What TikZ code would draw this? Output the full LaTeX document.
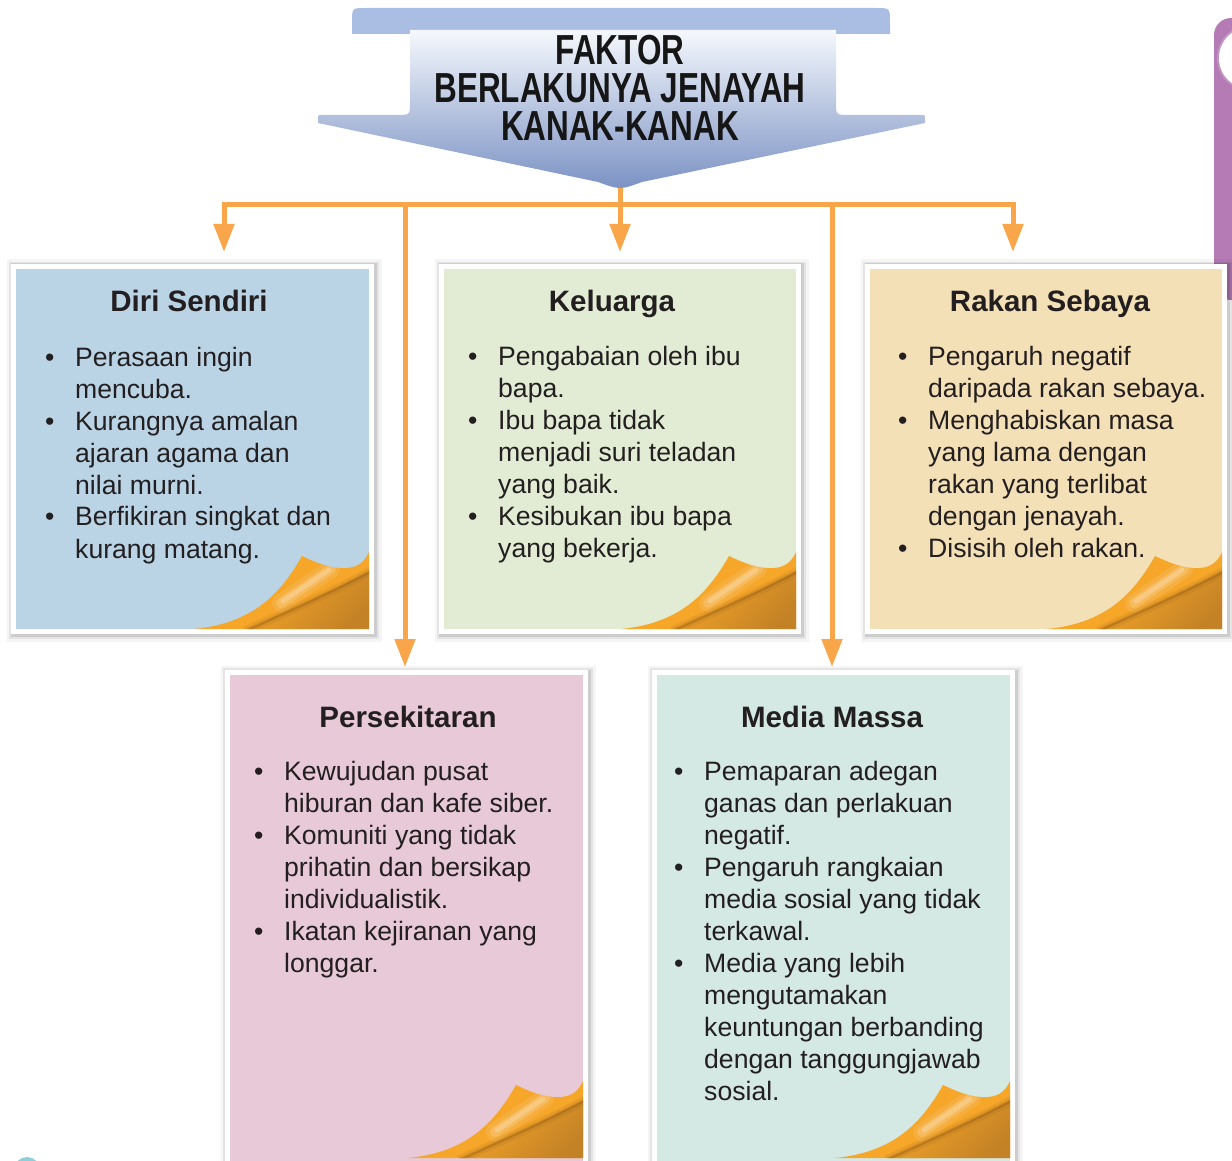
\documentclass[tikz,border=0pt]{standalone}
\usepackage{fontspec}
\setmainfont{Liberation Sans}
\usetikzlibrary{arrows.meta,calc}
\definecolor{conn}{HTML}{F9A54A}
\definecolor{txt}{HTML}{231F20}
\definecolor{titlecol}{HTML}{161616}
\definecolor{cA}{HTML}{BAD4E6}
\definecolor{cB}{HTML}{E2ECD4}
\definecolor{cC}{HTML}{F4E0B7}
\definecolor{cD}{HTML}{E8C9D7}
\definecolor{cE}{HTML}{D4E8E4}
\definecolor{barcol}{HTML}{A9BEE2}
\definecolor{bantop}{HTML}{F5F8FD}
\definecolor{banmid}{HTML}{B4C6E6}
\definecolor{banbot}{HTML}{7A91C3}
\definecolor{purp}{HTML}{B57BB5}
\definecolor{tealb}{HTML}{8FD0D8}
\definecolor{curlA}{HTML}{F6A629}
\definecolor{curlC}{HTML}{C48226}
\definecolor{curlD}{HTML}{7A4A12}
\newcommand\flappath{(-175,0) .. controls (-112,-6) and (-86,-40) .. (-67,-73) .. controls (-52,-66) and (-38,-60) .. (-22,-61) .. controls (-10,-62) and (-4,-68) .. (0,-77) -- (0,0) -- cycle}
\newcommand\foldpath{(-124,2) .. controls (-80,-18) and (-35,-38) .. (2,-58)}
\newcommand\pagecurl[1]{%
  \begin{scope}[shift={(#1)}]
    \fill[curlA] \flappath;
    \begin{scope}
      \clip \flappath;
      \draw[white, line width=18pt, opacity=0.10, line cap=round] (-38,-60) -- (-88,-26);
      \draw[white, line width=10pt, opacity=0.16, line cap=round] (-38,-60) -- (-88,-26);
      \draw[white, line width=5pt, opacity=0.22, line cap=round] (-40,-59) -- (-86,-28);
      \shade[top color=curlA, bottom color=curlC, shading angle=45] (-124,2) .. controls (-80,-18) and (-35,-38) .. (2,-58) -- (2,2) -- cycle;
      \draw[curlD, line width=9pt, opacity=0.10] \foldpath;
      \draw[curlD, line width=4pt, opacity=0.16] \foldpath;
      \draw[curlD, line width=1.5pt, opacity=0.25] \foldpath;
    \end{scope}
  \end{scope}}
\newcommand\bl{\textbullet}
\newcommand\blist[1]{\begin{tabular}[t]{@{}p{30pt}@{}l@{}}#1\end{tabular}}
\begin{document}
\begin{tikzpicture}[x=1pt,y=-1pt,
  conn/.style={draw=conn, line width=5pt},
  arr/.style={conn, -{Triangle[width=20pt,length=28pt]}},
  frame/.style={fill=white, inner sep=0pt, outer sep=0pt, anchor=north west,
    preaction={draw=black, draw opacity=0.04, line width=12pt, transform canvas={xshift=1.5pt,yshift=-1.5pt}},
    preaction={draw=black, draw opacity=0.07, line width=7pt, transform canvas={xshift=1.5pt,yshift=-1.5pt}},
    preaction={draw=black, draw opacity=0.10, line width=3pt, transform canvas={xshift=1pt,yshift=-1pt}}},
  ttl/.style={font=\fontsize{29.5}{32}\selectfont\bfseries, text=txt, inner sep=0pt, anchor=base},
  lst/.style={font=\fontsize{26.6}{32}\selectfont, text=txt, inner sep=0pt, anchor=base west},
  ]
\useasboundingbox (0,0) rectangle (1232,1161);
\clip (0,0) rectangle (1232,1161);

% right purple tab and bottom-left blob
\fill[purp, rounded corners=17pt] (1214,18) rectangle (1280,300);
\fill[purp!80!white] (1250,58) circle (33);
\fill[white] (1250,58) circle (31);
\fill[tealb] (27,1170) circle (13);

% boxes
\node[frame, minimum width=363pt, minimum height=370pt] (b1) at (11,264) {};
\node[frame, minimum width=362pt, minimum height=370pt] (b2) at (439,264) {};
\node[frame, minimum width=362pt, minimum height=370pt] (b3) at (865,264) {};
\node[frame, minimum width=363pt, minimum height=520pt] (b4) at (225,670) {};
\node[frame, minimum width=363pt, minimum height=520pt] (b5) at (652,670) {};
\fill[cA] ([shift={(5,5)}]b1.north west) rectangle ([shift={(-5,-5)}]b1.south east);
\fill[cB] ([shift={(5,5)}]b2.north west) rectangle ([shift={(-5,-5)}]b2.south east);
\fill[cC] ([shift={(5,5)}]b3.north west) rectangle ([shift={(-5,-5)}]b3.south east);
\fill[cD] ([shift={(5,5)}]b4.north west) rectangle ([shift={(-5,-5)}]b4.south east);
\fill[cE] ([shift={(5,5)}]b5.north west) rectangle ([shift={(-5,-5)}]b5.south east);
\pagecurl{$(b1.south east)+(-5,-5)$}
\pagecurl{$(b2.south east)+(-5,-5)$}
\pagecurl{$(b3.south east)+(-5,-5)$}
\pagecurl{$(b4.north east)+(-5,488)$}
\pagecurl{$(b5.north east)+(-5,488)$}

% box titles
\node[ttl] (t1) at (189,312) {Diri Sendiri};
\node[ttl] (t2) at (612,312) {Keluarga};
\node[ttl] (t3) at (1050,312) {Rakan Sebaya};
\node[ttl] (t4) at (408,727) {Persekitaran};
\node[ttl] (t5) at (832,727) {Media Massa};

% lists
\node[lst] (l1) at (45,366) {\blist{\bl & Perasaan ingin\\ & mencuba.\\ \bl & Kurangnya amalan\\ & ajaran agama dan\\ & nilai murni.\\ \bl & Berfikiran singkat dan\\ & kurang matang.}};
\node[lst] (l2) at (468,365) {\blist{\bl & Pengabaian oleh ibu\\ & bapa.\\ \bl & Ibu bapa tidak\\ & menjadi suri teladan\\ & yang baik.\\ \bl & Kesibukan ibu bapa\\ & yang bekerja.}};
\node[lst] (l3) at (898,365) {\blist{\bl & Pengaruh negatif\\ & daripada rakan sebaya.\\ \bl & Menghabiskan masa\\ & yang lama dengan\\ & rakan yang terlibat\\ & dengan jenayah.\\ \bl & Disisih oleh rakan.}};
\node[lst] (l4) at (254,780) {\blist{\bl & Kewujudan pusat\\ & hiburan dan kafe siber.\\ \bl & Komuniti yang tidak\\ & prihatin dan bersikap\\ & individualistik.\\ \bl & Ikatan kejiranan yang\\ & longgar.}};
\node[lst] (l5) at (674,780) {\blist{\bl & Pemaparan adegan\\ & ganas dan perlakuan\\ & negatif.\\ \bl & Pengaruh rangkaian\\ & media sosial yang tidak\\ & terkawal.\\ \bl & Media yang lebih\\ & mengutamakan\\ & keuntungan berbanding\\ & dengan tanggungjawab\\ & sosial.}};

% connectors
\coordinate (tip) at (620,180);
\coordinate (jm) at (620,205);
\coordinate (jl) at (224,205);
\coordinate (jr) at (1013,205);
\coordinate (j4) at (405,205);
\coordinate (j5) at (832,205);
\draw[conn, line cap=rect] (jl) -- (jr);
\draw[conn] (tip) -- (jm);
\draw[arr, shorten >=12pt] (jm) -- (jm |- b2.north);
\draw[arr, shorten >=12pt] (jl) -- (jl |- b1.north);
\draw[arr, shorten >=12pt] (jr) -- (jr |- b3.north);
\draw[arr, shorten >=3pt] (j4) -- (j4 |- b4.north);
\draw[arr, shorten >=3pt] (j5) -- (j5 |- b5.north);

% title banner
\fill[barcol] (352,34) -- (352,22) .. controls (352,8) .. (366,8) -- (876,8) .. controls (890,8) .. (890,22) -- (890,34) -- cycle;
\shade[top color=bantop, middle color=banmid, bottom color=banbot] (410,30) -- (410,102) .. controls (410,115) .. (397,115) -- (322,115) .. controls (318,115) .. (318,119) -- (318,123) -- (598,182) .. controls (620,190) .. (642,182) -- (925,123) -- (925,119) .. controls (925,115) .. (921,115) -- (849,115) .. controls (836,115) .. (836,102) -- (836,30) -- cycle;
\node[align=center, font=\fontsize{42}{38}\selectfont\bfseries, text=titlecol, inner sep=0pt] (title) at (620,88) {\scalebox{0.75}[1]{FAKTOR}\\\scalebox{0.75}[1]{BERLAKUNYA JENAYAH}\\\scalebox{0.75}[1]{KANAK-KANAK}};
\end{tikzpicture}
\end{document}
